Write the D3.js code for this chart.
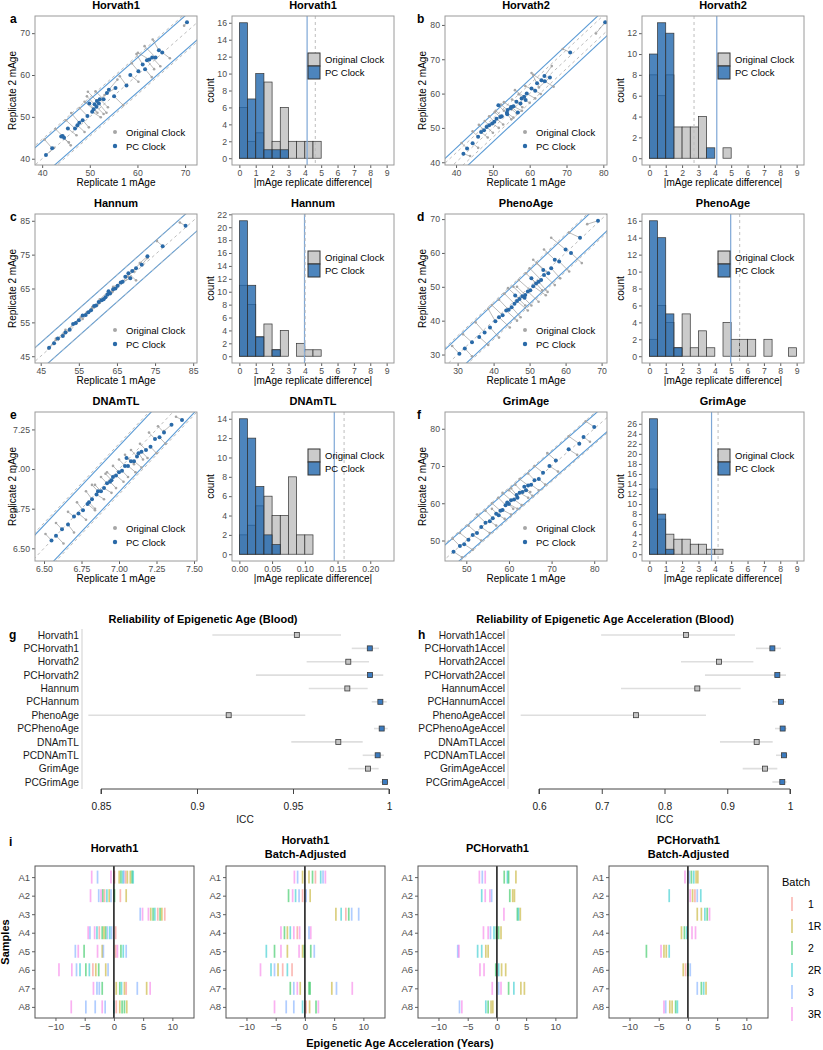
<!DOCTYPE html>
<html><head><meta charset="utf-8">
<script src="https://cdn.jsdelivr.net/npm/d3@7"></script>
<style>body{margin:0;background:#fff}</style>
</head><body><script>
// ---------------- DATA ----------------
const clocks = ["Horvath1","Horvath2","Hannum","PhenoAge","DNAmTL","GrimAge"];
const letters = ["a","b","c","d","e","f"];
// thresholds (vertical lines in histograms / bands in scatter)
const thrPC = [4.14, 4.12, 3.98, 4.97, 0.145, 3.80];
const thrOr = [4.64, 2.73, 4.02, 5.52, 0.160, 4.20];

// scatter data: PC clock replicate 1/2, Original clock replicate 1/2
const aPcX=[70.4,64.5,65.2,63.8,63.1,62.5,62.0,61.1,61.6,60.2,57.7,55.4,54.0,53.6,55.1,52.9,52.1,51.5,51.9,51.0,51.4,50.8,49.9,50.5,49.5,48.5,47.8,47.4,46.9,45.4,44.3,44.0,42.1,44.6,40.8,58.5];
const aPcY=[72.6,65.9,65.4,64.2,64.2,63.7,63.5,62.5,61.4,60.9,57.5,56.9,56.5,55.7,54.9,54.2,54.2,53.8,53.2,53.0,52.4,51.8,53.2,51.2,50.2,49.2,48.6,48.0,47.2,47.2,45.4,45.3,42.5,45.0,40.9,60.0];
const aOrX=[69.8,63.2,66.8,61.5,64.8,60.1,63.5,59.8,63.0,58.8,56.3,53.1,55.8,52.0,57.0,51.2,53.8,49.6,53.5,49.4,52.9,48.9,51.6,52.3,47.9,49.8,46.1,48.9,45.0,47.2,42.8,45.6,40.5,46.0,42.5,60.2];
const aOrY=[71.8,68.5,64.0,66.9,62.1,65.3,61.4,65.0,59.5,62.8,59.7,55.2,58.9,54.0,52.8,56.1,52.3,56.0,51.0,54.9,50.7,53.6,51.0,49.9,52.1,47.5,50.9,46.4,49.2,45.6,47.1,43.9,44.6,43.2,42.6,58.4];

const bPcX=[80.5,71.0,64.0,65.5,63.2,64.1,62.0,60.5,61.5,59.2,58.5,57.8,58.9,56.4,57.5,55.6,55.0,54.8,54.0,53.8,52.4,53.9,52.0,51.0,50.4,49.8,49.0,48.3,47.6,46.8,46.0,44.5,43.0,42.0,51.5,56.8];
const bPcY=[80.8,72.0,65.1,64.7,63.9,63.6,63.0,61.5,60.8,60.0,59.1,58.6,58.1,57.6,57.1,56.3,56.1,55.7,55.2,54.4,53.4,54.0,53.2,52.7,51.8,51.3,50.8,50.3,49.3,48.8,47.4,45.5,44.0,42.5,56.6,54.5];
const bOrX=[78.0,69.0,66.0,62.5,61.0,66.5,60.5,63.0,58.8,61.5,56.0,60.0,57.0,58.0,55.2,57.9,53.0,56.5,52.2,55.6,50.8,55.0,50.5,52.8,49.0,51.6,47.8,50.0,46.2,48.6,44.5,46.0,41.5,43.8,53.0,55.0];
const bOrY=[77.5,73.0,68.0,61.8,65.5,62.0,66.0,59.9,62.2,58.6,61.0,57.3,59.8,56.0,58.3,55.0,57.5,54.2,56.8,53.0,55.0,52.5,54.6,51.0,53.4,50.0,52.0,48.6,50.9,47.2,49.0,44.2,45.6,41.8,55.0,56.2];

const cPcX=[83.0,77.0,73.0,71.5,70.0,69.0,68.5,67.2,66.5,66.0,65.2,64.6,64.0,63.2,62.5,62.0,61.5,61.0,60.2,59.5,59.0,58.2,57.5,56.8,56.0,55.0,54.2,53.5,52.6,51.5,50.8,49.5,48.5,47.2,62.8,68.0];
const cPcY=[83.5,77.5,74.5,72.0,71.0,70.2,68.0,68.5,67.0,66.8,65.8,65.0,64.8,63.5,63.2,62.4,61.8,61.5,61.0,60.0,59.8,58.6,58.0,57.2,57.0,55.6,54.8,54.5,52.8,52.0,51.0,50.2,48.8,47.5,64.2,69.5];
const cOrX=[81.5,75.5,71.0,73.0,68.0,71.2,66.5,69.5,64.0,68.0,63.8,66.5,62.0,65.0,60.5,64.0,59.8,63.5,58.5,61.5,57.2,60.5,56.0,58.5,54.3,57.0,52.6,55.5,51.0,53.5,49.0,51.5,47.0,49.0,60.5,70.0];
const cOrY=[84.5,79.0,72.5,74.0,69.5,72.5,67.0,70.0,65.5,68.5,64.0,67.2,62.5,65.5,61.0,64.5,60.0,63.8,59.2,62.0,58.0,60.8,56.0,59.5,55.0,57.8,53.2,56.5,51.5,54.5,49.8,52.8,47.2,50.2,61.8,67.4];

const dPcX=[69.0,64.0,61.5,60.0,58.2,57.0,56.0,55.2,54.0,53.2,52.5,51.8,51.0,50.2,49.5,48.8,48.0,47.2,46.5,45.8,45.0,44.2,43.5,42.5,41.5,40.5,39.0,37.5,36.0,34.0,32.0,30.5,50.5,48.6,46.0,53.8];
const dPcY=[69.5,64.5,60.0,61.0,57.5,58.0,55.5,54.0,53.5,52.0,51.5,51.0,50.2,49.0,48.6,47.6,47.2,46.4,45.8,45.0,44.0,43.2,43.0,41.6,41.0,39.8,38.0,36.5,35.2,33.6,31.8,30.2,52.5,46.8,47.4,55.0];
const dOrX=[66.0,61.0,64.5,56.0,61.0,54.0,58.5,52.0,57.0,50.0,55.0,49.0,54.5,47.0,52.5,46.5,50.5,44.0,49.5,43.0,47.5,41.5,46.5,39.5,44.5,38.5,41.5,35.0,38.5,31.5,34.0,28.5,53.5,45.5,48.8,51.0];
const dOrY=[68.5,66.0,57.0,64.5,54.5,61.0,52.5,57.0,50.5,55.5,48.5,54.0,47.5,52.0,45.6,50.0,44.5,49.6,43.0,48.0,41.0,46.2,40.0,44.6,38.0,43.5,35.0,39.5,32.8,36.0,29.5,32.5,49.0,50.0,44.5,58.0];

const ePcX=[7.42,7.35,7.30,7.27,7.24,7.21,7.18,7.15,7.12,7.10,7.08,7.06,7.04,7.02,7.00,6.98,6.96,6.94,6.92,6.90,6.88,6.85,6.82,6.79,6.76,6.73,6.70,6.66,6.62,6.58,6.55,7.05,6.95,7.13,6.86,6.80];
const ePcY=[7.31,7.28,7.23,7.20,7.19,7.14,7.12,7.11,7.08,7.05,7.05,7.02,7.02,6.99,6.98,6.96,6.95,6.92,6.91,6.88,6.86,6.84,6.81,6.78,6.74,6.72,6.70,6.65,6.62,6.58,6.55,7.07,6.93,7.10,6.86,6.79];
const eOrX=[7.38,7.30,7.26,7.31,7.20,7.25,7.14,7.19,7.08,7.15,7.04,7.11,7.00,7.06,6.96,7.03,6.92,6.98,6.88,6.95,6.84,6.90,6.78,6.84,6.72,6.78,6.66,6.70,6.58,6.63,6.51,7.10,6.91,7.16,6.82,6.84];
const eOrY=[7.33,7.24,7.27,7.16,7.23,7.10,7.16,7.07,7.12,7.01,7.09,6.98,7.06,6.95,7.02,6.92,6.98,6.88,6.95,6.85,6.90,6.81,6.86,6.74,6.79,6.68,6.73,6.60,6.66,6.53,6.59,7.03,6.97,7.06,6.90,6.75];

const fPcX=[80.0,77.5,76.5,74.0,71.0,69.5,68.0,67.0,66.0,65.2,64.5,64.0,63.2,62.5,62.0,61.2,60.5,60.0,59.2,58.5,58.0,57.0,56.2,55.5,54.5,53.5,52.5,51.5,50.5,49.5,48.5,47.0,63.6,61.8,59.6,57.6];
const fPcY=[80.5,77.8,76.0,74.5,71.5,70.0,68.2,66.5,66.2,65.0,64.8,63.5,63.0,62.8,61.5,61.0,60.8,59.8,59.5,58.2,58.0,57.2,56.0,55.2,54.8,53.6,52.0,51.5,50.2,49.0,48.5,47.0,64.4,62.2,60.2,56.8];
const fOrX=[78.0,79.0,74.0,76.0,69.0,71.5,66.0,68.5,64.5,67.0,62.5,65.5,61.5,64.5,60.0,63.0,58.5,62.0,57.5,60.5,56.0,59.0,54.5,57.0,52.5,55.5,50.5,53.5,48.5,51.5,46.8,49.0,65.0,60.5,61.0,56.0];
const fOrY=[82.0,76.5,78.0,73.0,73.5,68.5,70.0,65.0,68.0,63.5,66.5,62.0,65.0,61.5,63.5,59.5,62.8,58.5,61.5,57.0,60.0,55.8,58.0,54.0,57.0,52.0,54.0,50.0,52.0,47.5,50.5,45.5,63.0,64.0,58.5,58.5];

// scatter axis ticks
const scXTicks = [[40,50,60,70],[40,50,60,70,80],[45,55,65,75,85],[30,40,50,60,70],[6.5,6.75,7.0,7.25,7.5],[50,60,70,80]];
const scYTicks = [[40,50,60,70],[40,50,60,70,80],[45,55,65,75,85],[30,40,50,60,70],[6.5,6.75,7.0,7.25],[50,60,70,80]];

// histogram counts (18 bins each)
const hOr = [
 [6,2,3,9,2,6,2,2,2,2,0,0,0,0,0,0,0,0],
 [8,6,8,3,3,3,4,0,0,1,0,0,0,0,0,0,0,0],
 [11,8,3,5,1,4,0,2,1,1,0,0,0,0,0,0,0,0],
 [2,6,4,1,5,1,3,1,0,4,2,2,2,0,2,0,0,1],
 [2,3,5,6,4,4,8,2,2,0,0,0,0,0,0,0,0,0],
 [13,7,4,3,3,2,2,1,1,0,0,0,0,0,0,0,0,0]];
const hPc = [
 [16,7,10,1,1,1,0,0,0,0,0,0,0,0,0,0,0,0],
 [10,13,12,0,0,0,0,1,0,0,0,0,0,0,0,0,0,0],
 [21,11,3,0,1,0,0,0,0,0,0,0,0,0,0,0,0,0],
 [16,14,5,1,0,0,0,0,0,0,0,0,0,0,0,0,0,0],
 [14,12,7,2,1,0,0,0,0,0,0,0,0,0,0,0,0,0],
 [27,8,1,0,0,0,0,0,0,0,0,0,0,0,0,0,0,0]];
const hRange = [[0,9],[0,9],[0,9],[0,9],[0,0.225],[0,9]];
const hXTicks = [[0,1,2,3,4,5,6,7,8,9],[0,1,2,3,4,5,6,7,8,9],[0,1,2,3,4,5,6,7,8,9],[0,1,2,3,4,5,6,7,8,9],[0,0.05,0.1,0.15,0.2],[0,1,2,3,4,5,6,7,8,9]];
const hYTicks = [d3.range(0,17,2),d3.range(0,13,2),d3.range(0,23,2),d3.range(0,17,2),d3.range(0,15,2),d3.range(0,27,2)];

// ICC forest plots
const gLabels = ["Horvath1","PCHorvath1","Horvath2","PCHorvath2","Hannum","PCHannum","PhenoAge","PCPhenoAge","DNAmTL","PCDNAmTL","GrimAge","PCGrimAge"];
const gEst = [0.952,0.990,0.9788,0.9901,0.9783,0.9955,0.9165,0.9962,0.9736,0.9941,0.9891,0.9979];
const gLo  = [0.908,0.9806,0.9571,0.9307,0.9582,0.991,0.8434,0.9922,0.9491,0.9863,0.9788,0.9953];
const gHi  = [0.975,0.9948,0.9896,0.997,0.9889,0.9988,0.9564,0.9993,0.9863,0.9974,0.9946,0.9996];
const hLabels = gLabels.map(s=>s+"Accel");
const hEst = [0.8343,0.9719,0.8869,0.9798,0.8523,0.9857,0.7546,0.9883,0.9469,0.9904,0.9602,0.9877];
const hLo  = [0.699,0.9458,0.8263,0.8645,0.7307,0.9719,0.5708,0.9761,0.8884,0.9777,0.9246,0.9719];
const hHi  = [0.9124,0.9857,0.9416,0.9936,0.9214,0.9936,0.8661,0.9947,0.9724,0.9957,0.9798,0.9947];
const gTicks = [0.85,0.9,0.95,1];
const hTicks = [0.6,0.7,0.8,0.9,1];

// batch strip plots
const samples = ["A1","A2","A3","A4","A5","A6","A7","A8"];
const batches = ["1","1R","2","2R","3","3R"];
const batchColors = ["#F8766D","#B79F00","#00BA38","#00BFC4","#619CFF","#F564E3"];
const stripTitles = [["Horvath1"],["Horvath1","Batch-Adjusted"],["PCHorvath1"],["PCHorvath1","Batch-Adjusted"]];
const stripTicks = [-10,-5,0,5,10];
const iH1 = [
["A1","3R",-3.8],["A1","3",-2.8],["A1","3R",-0.5],["A1","1",0.1],["A1","1R",0.9],["A1","2",1.2],["A1","2R",1.5],["A1","3",1.7],["A1","1",2.0],["A1","1R",2.3],["A1","1R",2.8],["A1","2",3.1],["A1","2R",3.3],
["A2","3R",-4.0],["A2","3",-2.6],["A2","3R",-2.2],["A2","2",-1.9],["A2","1",-1.6],["A2","2R",-1.2],["A2","1R",-0.8],["A2","3",-0.5],["A2","2",0.1],["A2","1",1.1],["A2","1R",2.1],
["A3","3",4.5],["A3","3R",4.9],["A3","3R",5.9],["A3","1R",6.3],["A3","2",6.7],["A3","2R",7.0],["A3","1",7.5],["A3","2",7.9],["A3","1R",8.2],["A3","1",8.7],
["A4","3R",-4.4],["A4","3",-4.1],["A4","3R",-3.3],["A4","2R",-2.9],["A4","1",-2.5],["A4","2",-2.0],["A4","1R",-1.7],["A4","2",-1.4],["A4","3",-1.1],["A4","2R",-0.7],["A4","3",-0.4],["A4","1",0.3],
["A5","3",-6.6],["A5","3R",-6.1],["A5","2",-5.1],["A5","3R",-2.8],["A5","1R",-2.0],["A5","3",-1.8],["A5","1",0.3],["A5","3R",0.6],["A5","2",1.2],["A5","2R",1.6],["A5","3",2.1],
["A6","3R",-9.4],["A6","3R",-7.2],["A6","3",-6.4],["A6","2R",-5.8],["A6","2",-4.8],["A6","2R",-4.2],["A6","1",-3.6],["A6","1R",-3.1],["A6","2",-2.6],["A6","1R",-1.4],["A6","3",-1.0],
["A7","3R",-3.5],["A7","3",-2.9],["A7","3",-2.5],["A7","2",-2.0],["A7","1R",0.4],["A7","2",1.0],["A7","2R",1.3],["A7","1R",1.8],["A7","1",2.1],["A7","3",4.0],["A7","1R",5.6],["A7","3R",6.2],
["A8","3R",-7.3],["A8","3",-4.8],["A8","3",-3.2],["A8","3R",-2.0],["A8","3",-1.5],["A8","2R",0.0],["A8","1",0.4],["A8","1R",1.0],["A8","2",1.4],["A8","2",1.8],["A8","1R",2.2]];
const iH1adj = [
["A1","3R",-1.8],["A1","3",-1.25],["A1","1R",-0.4],["A1","1R",0.7],["A1","2",1.3],["A1","1",1.8],["A1","2R",2.7],["A1","3",3.1],["A1","3R",3.5],
["A2","2",-2.8],["A2","3R",-2.1],["A2","2R",-1.6],["A2","3",-1.0],["A2","1",-0.4],["A2","3",0.2],["A2","1R",0.9],
["A3","1R",5.3],["A3","2R",6.2],["A3","1",7.0],["A3","2",7.5],["A3","3",8.0],["A3","3",9.2],
["A4","3R",-4.1],["A4","2",-3.5],["A4","1R",-3.0],["A4","2R",-2.5],["A4","3R",-1.9],["A4","1",-1.3],["A4","3R",-0.9],["A4","3",0.7],["A4","3R",1.0],
["A5","2R",-6.6],["A5","2",-5.2],["A5","3R",-4.1],["A5","1R",-3.0],["A5","3R",-1.0],["A5","1R",-0.4],["A5","2",-0.1],["A5","2",1.0],["A5","3",1.6],
["A6","3R",-7.6],["A6","2R",-5.8],["A6","3",-5.2],["A6","1R",-4.6],["A6","1",-3.8],["A6","2R",-3.0],["A6","1",-2.2],
["A7","2",-2.5],["A7","3",-1.9],["A7","3R",-1.3],["A7","1R",-0.8],["A7","2",0.7],["A7","2",0.9],["A7","1R",4.6],["A7","3",5.4],["A7","3R",8.1],
["A8","3R",-5.2],["A8","3",-3.2],["A8","3",-1.9],["A8","2R",-0.4],["A8","1",0.2],["A8","1R",0.8],["A8","2",1.9],["A8","3R",2.3]];
const iPC = [
["A1","3R",-3.0],["A1","3",-2.5],["A1","3R",-2.0],["A1","2",1.25],["A1","2R",1.8],["A1","2",2.0],["A1","1R",3.25],
["A2","2R",-2.6],["A2","3R",-2.0],["A2","3R",-1.2],["A2","3",-0.9],["A2","2",2.2],["A2","1R",2.7],["A2","1R",3.0],
["A3","3R",1.2],["A3","2",3.5],["A3","2R",3.7],["A3","1R",4.0],
["A4","3R",-2.3],["A4","3R",-1.5],["A4","3",-1.1],["A4","2R",-0.5],["A4","2",-0.1],["A4","2",0.3],["A4","1R",0.7],
["A5","3",-6.7],["A5","3R",-6.5],["A5","2R",-3.3],["A5","2R",-2.6],["A5","1R",-1.9],["A5","1R",-1.5],
["A6","3R",-2.9],["A6","3R",-2.2],["A6","2",-0.2],["A6","2R",0.3],["A6","1R",0.8],["A6","1R",1.5],
["A7","3R",-0.8],["A7","3",0.3],["A7","3R",0.7],["A7","2",2.0],["A7","2R",2.9],["A7","1R",4.1],["A7","1R",4.7],
["A8","3",-6.4],["A8","3R",-6.0],["A8","2R",-1.9],["A8","2",-1.5],["A8","1R",-1.0],["A8","1R",-0.7]];
const iPCadj = [
["A1","3R",-0.5],["A1","3",0.25],["A1","2",0.6],["A1","2R",1.0],["A1","1R",1.4],["A1","1R",1.7],
["A2","2R",-3.2],["A2","3R",0.4],["A2","1R",0.8],["A2","1",1.2],["A2","3",1.6],["A2","2R",2.2],
["A3","1R",1.6],["A3","1R",2.3],["A3","2R",2.9],["A3","2",3.3],["A3","3R",3.7],
["A4","1R",-1.1],["A4","2",-0.6],["A4","2R",-0.2],["A4","3R",0.7],["A4","3R",1.3],
["A5","2",-7.1],["A5","3R",-4.6],["A5","1R",-4.1],["A5","1R",-3.7],["A5","2R",-3.2],
["A6","1R",-0.8],["A6","1",-0.4],["A6","2",0.0],["A6","3",0.4],
["A7","3",1.6],["A7","2",2.3],["A7","2R",2.7],["A7","1R",3.1],
["A8","3R",-4.1],["A8","3",-3.8],["A8","1R",-3.1],["A8","1R",-2.7],["A8","2",-2.1],["A8","2R",-1.8]];

// ---------------- DRAW ----------------
const FONT = '"Liberation Sans", Arial, Helvetica, sans-serif';
const svg = d3.select("body").append("svg").attr("width",823).attr("height",1050)
  .style("font-family",FONT).style("background","#fff");

function styleAxis(sel, fs){
  sel.select(".domain").remove();
  sel.selectAll(".tick line").attr("stroke","#333").attr("stroke-width",0.8);
  sel.selectAll(".tick text").attr("fill","#4d4d4d").style("font-size",(fs||8.7)+"px").style("font-family",FONT);
}
function txt(g,x,y,s,opt){
  opt=opt||{};
  const t=g.append("text").attr("x",x).attr("y",y).text(s)
    .style("font-size",(opt.size||10)+"px").attr("fill",opt.fill||"#000")
    .attr("text-anchor",opt.anchor||"start");
  if(opt.bold) t.style("font-weight","bold");
  if(opt.rot) t.attr("transform",`rotate(-90,${x},${y})`);
  return t;
}

const scData = [
 [aPcX,aPcY,aOrX,aOrY],[bPcX,bPcY,bOrX,bOrY],[cPcX,cPcY,cOrX,cOrY],
 [dPcX,dPcY,dOrX,dOrY],[ePcX,ePcY,eOrX,eOrY],[fPcX,fPcY,fOrX,fOrY]];
const scXDom = [[38.5,72.5],[37,81],[43.5,86],[26.5,71.5],[6.44,7.52],[45,83]];
const scYDom = [[38.5,74.1],[39.2,82.6],[43,87],[27.5,71.5],[6.42,7.36],[44.5,84.5]];

const rowTop = [16,214,412];
const PW=162, PH=149;

function scatter(k, px, py){
  const [pcX,pcY,orX,orY]=scData[k];
  const g=svg.append("g").attr("transform",`translate(${px},${py})`);
  const x=d3.scaleLinear().domain(scXDom[k]).range([0,PW]);
  const y=d3.scaleLinear().domain(scYDom[k]).range([PH,0]);
  g.append("clipPath").attr("id","sc"+k).append("rect").attr("width",PW).attr("height",PH);
  const c=g.append("g").attr("clip-path",`url(#sc${k})`);
  const lo=Math.min(scXDom[k][0],scYDom[k][0])-50, hi=Math.max(scXDom[k][1],scYDom[k][1])+50;
  c.selectAll(".bl").data([thrPC[k],-thrPC[k]]).join("line")
    .attr("x1",x(lo)).attr("x2",x(hi)).attr("y1",d=>y(lo+d)).attr("y2",d=>y(hi+d))
    .attr("stroke","#5b9bd5").attr("stroke-width",1.1);
  c.selectAll(".gl").data([0,thrOr[k],-thrOr[k]]).join("line")
    .attr("x1",x(lo)).attr("x2",x(hi)).attr("y1",d=>y(lo+d)).attr("y2",d=>y(hi+d))
    .attr("stroke","#b5b5b5").attr("stroke-width",0.9).attr("stroke-dasharray","3,3");
  const idx=d3.range(pcX.length);
  c.selectAll(".seg").data(idx).join("line")
    .attr("x1",i=>x(pcX[i])).attr("y1",i=>y(pcY[i])).attr("x2",i=>x(orX[i])).attr("y2",i=>y(orY[i]))
    .attr("stroke","#8c8c8c").attr("stroke-width",0.6);
  c.selectAll(".op").data(idx).join("circle")
    .attr("cx",i=>x(orX[i])).attr("cy",i=>y(orY[i])).attr("r",1.3).attr("fill","#a6a6a6");
  c.selectAll(".pp").data(idx).join("circle")
    .attr("cx",i=>x(pcX[i])).attr("cy",i=>y(pcY[i])).attr("r",2).attr("fill","#2a6aa8");
  const fmt = k===4 ? d3.format(".2f") : d3.format("d");
  g.append("g").attr("transform",`translate(0,${PH})`)
    .call(d3.axisBottom(x).tickValues(scXTicks[k]).tickSize(3).tickPadding(2).tickFormat(fmt)).call(styleAxis);
  g.append("g").call(d3.axisLeft(y).tickValues(scYTicks[k]).tickSize(3).tickPadding(2).tickFormat(fmt)).call(styleAxis);
  g.append("rect").attr("width",PW).attr("height",PH).attr("fill","none").attr("stroke","#9a9a9a").attr("stroke-width",1);
  // legend
  g.append("circle").attr("cx",80).attr("cy",116).attr("r",2).attr("fill","#a6a6a6");
  g.append("circle").attr("cx",80).attr("cy",130).attr("r",2.2).attr("fill","#2a6aa8");
  txt(g,91,119.5,"Original Clock",{size:9.5});
  txt(g,91,133.5,"PC Clock",{size:9.5});
  txt(g,PW/2,-7,clocks[k],{size:11,bold:true,anchor:"middle"});
  txt(g,PW/2,PH+21,"Replicate 1 mAge",{size:10,anchor:"middle"});
  txt(g,-19,PH/2,"Replicate 2 mAge",{size:10,anchor:"middle",rot:true});
  const lx = (k%2===0) ? -25 : -28;
  txt(g,lx,7,letters[k],{size:12,bold:true});
}

function hist(k, px, py){
  const g=svg.append("g").attr("transform",`translate(${px},${py})`);
  const [r0,r1]=hRange[k]; const ex=0.05*(r1-r0);
  const x=d3.scaleLinear().domain([r0-ex,r1+ex]).range([0,PW]);
  const mx=d3.max(hOr[k].concat(hPc[k]));
  const y=d3.scaleLinear().domain([-0.05*mx,1.05*mx]).range([PH,0]);
  const bw=(r1-r0)/hOr[k].length;
  g.selectAll(".ob").data(hOr[k]).join("rect")
    .attr("x",(d,i)=>x(r0+i*bw)).attr("width",x(bw)-x(0)).attr("y",d=>y(d)).attr("height",d=>y(0)-y(d))
    .attr("fill","#cbcbcb").attr("stroke","#333").attr("stroke-width",0.7);
  g.selectAll(".pb").data(hPc[k]).join("rect")
    .attr("x",(d,i)=>x(r0+i*bw)).attr("width",x(bw)-x(0)).attr("y",d=>y(d)).attr("height",d=>y(0)-y(d))
    .attr("fill","rgba(33,102,172,0.8)").attr("stroke","#333").attr("stroke-width",0.7);
  g.append("line").attr("x1",x(thrPC[k])).attr("x2",x(thrPC[k])).attr("y1",0).attr("y2",PH)
    .attr("stroke","#7ea7d6").attr("stroke-width",1.2);
  g.append("line").attr("x1",x(thrOr[k])).attr("x2",x(thrOr[k])).attr("y1",0).attr("y2",PH)
    .attr("stroke","#bdbdbd").attr("stroke-width",1).attr("stroke-dasharray","3,3");
  const fmt = k===4 ? d3.format(".2f") : d3.format("d");
  g.append("g").attr("transform",`translate(0,${PH})`)
    .call(d3.axisBottom(x).tickValues(hXTicks[k]).tickSize(3).tickPadding(2).tickFormat(fmt)).call(styleAxis);
  g.append("g").call(d3.axisLeft(y).tickValues(hYTicks[k]).tickSize(3).tickPadding(2)).call(styleAxis);
  g.append("rect").attr("width",PW).attr("height",PH).attr("fill","none").attr("stroke","#9a9a9a").attr("stroke-width",1);
  // legend
  g.append("rect").attr("x",76).attr("y",37).attr("width",12).attr("height",13).attr("fill","#cbcbcb").attr("stroke","#333");
  g.append("rect").attr("x",76).attr("y",50).attr("width",12).attr("height",13).attr("fill","#4d85bd").attr("stroke","#333");
  txt(g,93,47,"Original Clock",{size:9.5});
  txt(g,93,60,"PC Clock",{size:9.5});
  txt(g,PW/2,-7,clocks[k],{size:11,bold:true,anchor:"middle"});
  txt(g,PW/2,PH+21,"|mAge replicate difference|",{size:10,anchor:"middle"});
  txt(g,-18,PH/2,"count",{size:10,anchor:"middle",rot:true});
}

const colX = [[35,232],[445,642]];
for(let k=0;k<6;k++){
  const row=Math.floor(k/2), col=k%2;
  scatter(k, colX[col][0], rowTop[row]);
  hist(k, colX[col][1], rowTop[row]);
}

// ---------- forest plots ----------
function forest(labels, est, lo, hi, ticks, dom, ax0, ax1, labX, vx, title, titleX, letter, letterX){
  const g=svg.append("g");
  const x=d3.scaleLinear().domain(dom).range([ax0,ax1]);
  const y=d3.scalePoint().domain(labels).range([635,782]);
  g.append("line").attr("x1",vx).attr("x2",vx).attr("y1",629).attr("y2",789).attr("stroke","#cfcfcf").attr("stroke-width",1);
  g.selectAll(".ci").data(labels).join("line")
    .attr("x1",(d,i)=>x(lo[i])).attr("x2",(d,i)=>x(hi[i])).attr("y1",d=>y(d)).attr("y2",d=>y(d))
    .attr("stroke","#dedede").attr("stroke-width",1.6);
  g.selectAll(".pt").data(labels).join("rect")
    .attr("x",(d,i)=>x(est[i])-2.5).attr("y",d=>y(d)-2.5).attr("width",5).attr("height",5)
    .attr("fill",(d,i)=>i%2 ? "#3b7bc0" : "#c4c4c4").attr("stroke","#3a3a3a").attr("stroke-width",0.8);
  g.selectAll(".lab").data(labels).join("text")
    .attr("x",labX).attr("y",d=>y(d)+3.6).text(d=>d).attr("text-anchor","end")
    .style("font-size","10.2px").attr("fill","#1a1a1a");
  const ax=g.append("g").attr("transform","translate(0,789)")
    .call(d3.axisBottom(x).tickValues(ticks).tickSize(5).tickPadding(9).tickFormat(d=>d===1?"1":String(d)));
  ax.select(".domain").attr("stroke","#444").attr("d",`M${ax0},5V0H${ax1}V5`);
  ax.selectAll(".tick line").attr("stroke","#444");
  ax.selectAll(".tick text").style("font-size","10.2px").attr("fill","#1a1a1a").style("font-family",FONT);
  txt(g,(ax0+ax1)/2,823,"ICC",{size:10.2,anchor:"middle",fill:"#1a1a1a"});
  txt(g,titleX,623,title,{size:11,bold:true,anchor:"middle"});
  txt(g,letterX,639,letter,{size:12,bold:true});
}
forest(gLabels,gEst,gLo,gHi,gTicks,[0.85,1],101,389,79,82,"Reliability of Epigenetic Age (Blood)",203,"g",9);
forest(hLabels,hEst,hLo,hHi,hTicks,[0.6,1],539,790,505,508,"Reliability of Epigenetic Age Acceleration (Blood)",605,"h",418);

// ---------- strip plots ----------
const stripData=[iH1,iH1adj,iPC,iPCadj];
const stripX=[35,226,418,609];
const SW=159, ST=866, SH=152;
const col = d3.scaleOrdinal().domain(batches).range(batchColors);
stripData.forEach((data,k)=>{
  const g=svg.append("g").attr("transform",`translate(${stripX[k]},${ST})`);
  const x=d3.scaleLinear().domain([-13.5,13.7]).range([0,SW]);
  const y=d3.scalePoint().domain(samples).range([0,SH]).padding(0.6);
  g.selectAll(".mk").data(data).join("line")
    .attr("x1",d=>x(d[2])).attr("x2",d=>x(d[2])).attr("y1",d=>y(d[0])-6.5).attr("y2",d=>y(d[0])+6.5)
    .attr("stroke",d=>col(d[1])).attr("stroke-width",1.7).attr("stroke-opacity",0.5);
  g.append("line").attr("x1",x(0)).attr("x2",x(0)).attr("y1",0).attr("y2",SH).attr("stroke","#000").attr("stroke-width",1.4);
  g.append("g").attr("transform",`translate(0,${SH})`)
    .call(d3.axisBottom(x).tickValues(stripTicks).tickSize(3).tickPadding(2).tickFormat(d=>d<0?"\u2212"+Math.abs(d):d)).call(s=>styleAxis(s,9.5));
  g.append("g").call(d3.axisLeft(y).tickSize(3).tickPadding(2)).call(s=>styleAxis(s,9.5));
  g.append("rect").attr("width",SW).attr("height",SH).attr("fill","none").attr("stroke","#555").attr("stroke-width",1);
  const t=stripTitles[k];
  if(t.length===1) txt(g,SW/2,-14,t[0],{size:11,bold:true,anchor:"middle"});
  else { txt(g,SW/2,-22,t[0],{size:11,bold:true,anchor:"middle"}); txt(g,SW/2,-8,t[1],{size:11,bold:true,anchor:"middle"}); }
});
txt(svg,9,846,"i",{size:12,bold:true});
txt(svg,9,942,"Samples",{size:11,bold:true,anchor:"middle",rot:true});
txt(svg,400,1047,"Epigenetic Age Acceleration (Years)",{size:11,bold:true,anchor:"middle"});
// batch legend
const lg=svg.append("g");
txt(lg,782,886,"Batch",{size:11});
lg.selectAll(".lk").data(batches).join("line")
  .attr("x1",792).attr("x2",792).attr("y1",(d,i)=>904+i*22-7).attr("y2",(d,i)=>904+i*22+7)
  .attr("stroke",d=>col(d)).attr("stroke-width",1.7).attr("stroke-opacity",0.5);
lg.selectAll(".lt").data(batches).join("text")
  .attr("x",808).attr("y",(d,i)=>904+i*22+4).text(d=>d).style("font-size","10.5px");
</script></body></html>
